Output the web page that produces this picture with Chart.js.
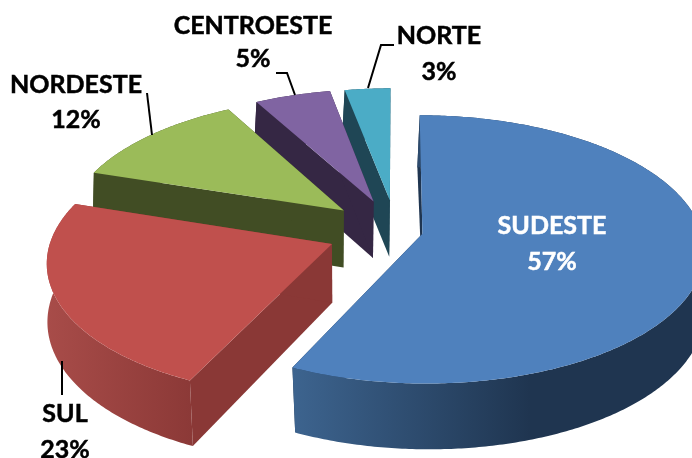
<!DOCTYPE html>
<html>
<head>
<meta charset="utf-8">
<style>
	html, body { margin: 0; padding: 0; background: #fff; overflow: hidden; }
	canvas { display: block; }
</style>
<script src="https://cdn.jsdelivr.net/npm/chart.js@4"></script>
</head>
<body>
<canvas id="pie" width="692" height="458"></canvas>
<script>
const regions = ["SUDESTE", "SUL", "NORDESTE", "CENTROESTE", "NORTE"];
const shares = [57, 23, 12, 5, 3];
const explode = [27, 69, 69, 68, 67];

const topColors = ["#4f81bd", "#c0504d", "#9bbb59", "#8064a2", "#4bacc6"];
const cutColors = ["#1f3550", "#8a3836", "#414d24", "#352744", "#1f4655"];
// outer wall shading, light side first
const wallColors = [["#3d648f", "#1f3550", 292, 530], ["#a84c49", "#8a3836", 46, 200], ["#414d24", "#414d24", 0, 1], ["#352744", "#352744", 0, 1], ["#1f4655", "#1f4655", 0, 1]];
const drawOrder = [0, 4, 3, 2, 1];

// text position of each region: name line, value line
const labelPos = [[552, 226, 262], [65, 414, 450], [76, 85, 120], [253, 26, 59], [439, 36, 72]];
const leaders = [
	[],
	[[62, 361], [62, 395]],
	[[147, 93], [152, 135]],
	[[276, 73], [287, 73], [295, 95]],
	[[394, 45], [381, 45], [368, 88]]
];

const pitch = 0.472;
const perspective = 0.116;
const depth = 58;
const shear = 0.02;

function project(arc, px, py, low) {
	const w = 1 - perspective * py / arc.outerRadius;
	const x = arc.x + px / w;
	const y = arc.y + pitch * py / w;
	if (!low) return [x, y];
	return [x + shear * (y - arc.y), y + depth / w];
}

// outline of one slice in plane coordinates, apex first
function outline(arc) {
	const mid = (arc.startAngle + arc.endAngle) / 2;
	const ox = Math.cos(mid) * arc.options.offset;
	const oy = Math.sin(mid) * arc.options.offset;
	const pts = [[ox, oy]];
	const steps = Math.ceil((arc.endAngle - arc.startAngle) * 90);
	for (let i = 0; i <= steps; i++) {
		const a = arc.startAngle + (arc.endAngle - arc.startAngle) * i / steps;
		pts.push([ox + Math.cos(a) * arc.outerRadius, oy + Math.sin(a) * arc.outerRadius]);
	}
	return pts;
}

function fillPoly(ctx, poly, color) {
	ctx.beginPath();
	poly.forEach((p, i) => (i ? ctx.lineTo(p[0], p[1]) : ctx.moveTo(p[0], p[1])));
	ctx.closePath();
	ctx.fillStyle = color;
	ctx.fill();
}

const pie3d = {
	id: "pie3d",
	beforeDatasetDraw(chart, args) {
		const ctx = chart.ctx;
		const arcs = args.meta.data;
		ctx.save();
		drawOrder.forEach(i => {
			const arc = arcs[i];
			const pts = outline(arc);
			const rim = pts.slice(1);
			const up = p => project(arc, p[0], p[1]);
			const down = p => project(arc, p[0], p[1], true);
			const wc = wallColors[i];
			const grad = ctx.createLinearGradient(wc[2], 0, wc[3], 0);
			grad.addColorStop(0, wc[0]);
			grad.addColorStop(1, wc[1]);
			// the two flat cuts, then the curved wall, then the top
			[rim[0], rim[rim.length - 1]].forEach(edge => {
				fillPoly(ctx, [up(pts[0]), up(edge), down(edge), down(pts[0])], cutColors[i]);
			});
			fillPoly(ctx, rim.map(up).concat(rim.map(down).reverse()), grad);
			fillPoly(ctx, pts.map(up), topColors[i]);
		});
		ctx.restore();
		return false;
	},
	afterDatasetsDraw(chart) {
		const ctx = chart.ctx;
		ctx.save();
		ctx.strokeStyle = "#000";
		ctx.lineWidth = 2;
		leaders.forEach(line => {
			if (!line.length) return;
			ctx.beginPath();
			line.forEach((p, i) => (i ? ctx.lineTo(p[0], p[1]) : ctx.moveTo(p[0], p[1])));
			ctx.stroke();
		});
		ctx.font = "bold 25px Lato";
		ctx.textAlign = "center";
		ctx.textBaseline = "middle";
		ctx.lineWidth = 0.5;
		regions.forEach((name, i) => {
			const color = i === 0 ? "#fff" : "#000";
			ctx.fillStyle = color;
			ctx.strokeStyle = color;
			ctx.fillText(name, labelPos[i][0], labelPos[i][1]);
			ctx.strokeText(name, labelPos[i][0], labelPos[i][1]);
			ctx.fillText(shares[i] + "%", labelPos[i][0], labelPos[i][2]);
			ctx.strokeText(shares[i] + "%", labelPos[i][0], labelPos[i][2]);
		});
		ctx.restore();
	}
};

new Chart(document.getElementById("pie"), {
	type: "pie",
	data: {
		labels: regions,
		datasets: [{ data: shares, backgroundColor: topColors, offset: explode, radius: 279, borderWidth: 0 }]
	},
	options: {
		responsive: false,
		animation: false,
		layout: { padding: { left: 100, top: 4 } },
		plugins: { legend: { display: false }, tooltip: { enabled: false } }
	},
	plugins: [pie3d]
});
</script>
</body>
</html>
